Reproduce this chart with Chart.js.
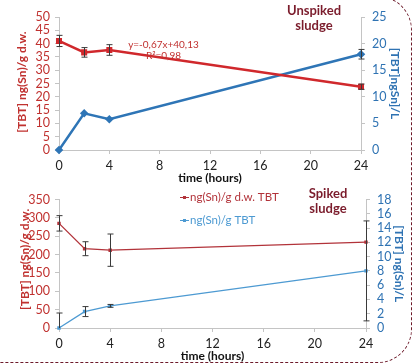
<!DOCTYPE html>
<html>
<head>
<meta charset="utf-8">
<script src="https://cdn.jsdelivr.net/npm/chart.js@4.4.1/dist/chart.umd.min.js"></script>
<style>
  html, body { margin: 0; padding: 0; background: #fff; }
  body { width: 419px; height: 363px; position: relative; overflow: hidden; font-family: Lato, sans-serif; }
  #top-box { position: absolute; left: 0; top: 0; width: 419px; height: 190px; }
  #bottom-box { position: absolute; left: 0; top: 185px; width: 419px; height: 178px; }
  .frame { position: absolute; left: -60px; top: -4px; width: 472px; height: 367px; box-sizing: border-box;
           border: 1.5px dashed #6d1a2a; border-radius: 34px; }
  .tag { position: absolute; color: #7b1c2c; font: bold 13px Lato, sans-serif; text-align: center; line-height: 15px; }
</style>
</head>
<body>
<div class="frame"></div>
<div id="top-box"><canvas id="top-chart" width="419" height="190"></canvas></div>
<div id="bottom-box"><canvas id="bottom-chart" width="419" height="178"></canvas></div>
<div class="tag" style="left:274px; top:3px; width:80px;">Unspiked<br>sludge</div>
<div class="tag" style="left:288px; top:186px; width:80px;">Spiked<br>sludge</div>
<script>
const hours = [0, 2, 4, 24];
const xTicks = [0, 4, 8, 12, 16, 20, 24];

// unspiked sludge: solid phase (left axis) and liquid phase (right axis)
const unspikedSolid = [41.0, 36.7, 37.6, 23.8];
const unspikedSolidErr = [2.1, 1.8, 2.0, 1.0];
const unspikedLiquid = [0, 6.9, 5.8, 18.0];
const unspikedLiquidErr = [0, 0, 0, 0.9];
const unspikedLeftTicks = [0, 5, 10, 15, 20, 25, 30, 35, 40, 45, 50];
const unspikedRightTicks = [0, 5, 10, 15, 20, 25];

// spiked sludge
const spikedSolid = [285, 216, 212, 234];
const spikedSolidErr = [21, 19, 44, 0];
const spikedLiquid = [0, 2.3, 3.1, 8.0];
const spikedLiquidErr = [2.1, 0.7, 0.2, 7.0];
const spikedLeftTicks = [0, 50, 100, 150, 200, 250, 300, 350];
const spikedRightTicks = [0, 2, 4, 6, 8, 10, 12, 14, 16, 18];

const RED = '#d0282c';
const RED_DARK = '#b2333a';
const BLUE = '#2e75b6';
const BLUE_LIGHT = '#4d9ad2';
const FONT = 'Lato, sans-serif';

function pts(ys) {
  return hours.map((h, i) => ({ x: h, y: ys[i] }));
}

const errorBars = {
  id: 'errorBars',
  afterDatasetsDraw(chart) {
    const ctx = chart.ctx, a = chart.chartArea;
    ctx.save();
    ctx.beginPath();
    ctx.rect(a.left - 10, a.top - 10, a.right - a.left + 20, a.bottom - a.top + 10);
    ctx.clip();
    ctx.strokeStyle = '#3a3a3a';
    ctx.lineWidth = 1;
    chart.data.datasets.forEach(ds => {
      if (!ds.errors) return;
      const ys = chart.scales[ds.yAxisID];
      ds.data.forEach((p, j) => {
        const e = ds.errors[j];
        if (!e) return;
        const x = Math.round(chart.scales.x.getPixelForValue(p.x)) + 0.5;
        const y1 = ys.getPixelForValue(p.y + e);
        const y2 = ys.getPixelForValue(p.y - e);
        ctx.beginPath();
        ctx.moveTo(x, y1); ctx.lineTo(x, y2);
        ctx.moveTo(x - 3, y1); ctx.lineTo(x + 3, y1);
        ctx.moveTo(x - 3, y2); ctx.lineTo(x + 3, y2);
        ctx.stroke();
      });
    });
    ctx.restore();
  }
};

const notes = {
  id: 'notes',
  afterDraw(chart, args, opts) {
    const ctx = chart.ctx;
    ctx.save();
    (opts.texts || []).forEach(t => {
      ctx.font = t.font;
      ctx.fillStyle = t.color;
      ctx.textAlign = 'center';
      ctx.textBaseline = 'middle';
      const x = chart.scales.x.getPixelForValue(t.x);
      const y = chart.scales[t.axis].getPixelForValue(t.y);
      ctx.fillText(t.text, x, y);
    });
    if (opts.legend) {
      const L = opts.legend;
      ctx.font = '11.5px ' + FONT;
      ctx.textAlign = 'left';
      ctx.textBaseline = 'middle';
      chart.data.datasets.forEach((ds, i) => {
        const y = L.y + i * L.gap;
        ctx.strokeStyle = ds.borderColor;
        ctx.fillStyle = ds.borderColor;
        ctx.lineWidth = 1;
        ctx.beginPath();
        ctx.moveTo(L.x, y + 0.5); ctx.lineTo(L.x + 9, y + 0.5);
        ctx.stroke();
        ctx.fillRect(L.x + 3, y - 1, 3, 3);
        ctx.fillText(ds.label, L.x + 10, y);
      });
    }
    ctx.restore();
  }
};

function xAxis(height, titlePad, tickPad) {
  return {
    type: 'linear', min: xTicks[0], max: xTicks[xTicks.length - 1],
    afterBuildTicks: s => { s.ticks = xTicks.map(v => ({ value: v })); },
    afterFit: s => { s.height = height; },
    border: { color: '#c4c4c4' },
    grid: { drawOnChartArea: false, tickLength: 4, color: '#c4c4c4' },
    ticks: { color: '#222', font: { family: FONT, size: 12.5 }, padding: tickPad, maxRotation: 0, autoSkip: false },
    title: { display: true, text: 'time (hours)', color: '#111',
             font: { family: FONT, size: 12, weight: 'bold' }, padding: { top: 0, bottom: titlePad } }
  };
}

function yAxis(pos, tickVals, width, color, title, titlePad, tickPad) {
  return {
    type: 'linear', position: pos,
    min: tickVals[0], max: tickVals[tickVals.length - 1],
    afterBuildTicks: s => { s.ticks = tickVals.map(v => ({ value: v })); },
    afterFit: s => { s.width = width; },
    border: { color: '#c4c4c4' },
    grid: { drawOnChartArea: false, tickLength: 4, color: '#c4c4c4' },
    ticks: { color: color, font: { family: FONT, size: 12.5 }, padding: tickPad, autoSkip: false },
    title: { display: true, text: title, color: color,
             font: { family: FONT, size: 12, weight: 'bold' }, padding: { top: titlePad, bottom: 0 } }
  };
}

const common = {
  responsive: false,
  animation: false,
  plugins: { legend: { display: false }, tooltip: { enabled: false } }
};

new Chart(document.getElementById('top-chart'), {
  type: 'line',
  data: {
    datasets: [
      { label: 'ng(Sn)/g d.w. TBT', data: pts(unspikedSolid), errors: unspikedSolidErr, yAxisID: 'yL',
        borderColor: RED, backgroundColor: RED, borderWidth: 2.5, pointStyle: 'rect', pointRadius: 2.5, clip: 10 },
      { label: 'ng(Sn)/L TBT', data: pts(unspikedLiquid), errors: unspikedLiquidErr, yAxisID: 'yR',
        borderColor: BLUE, backgroundColor: BLUE, borderWidth: 2.5, pointStyle: 'rectRot', pointRadius: 2.5, clip: 10 }
    ]
  },
  options: Object.assign({}, common, {
    layout: { padding: { top: 17, bottom: 0, left: 0, right: 0 } },
    scales: {
      x: xAxis(40, 5, 4),
      yL: yAxis('left', unspikedLeftTicks, 59, '#c0312f', ' [TBT] ng(Sn)/g d.w.', 15, 5),
      yR: yAxis('right', unspikedRightTicks, 58, '#2f73b3', '[TBT]ngSn]/L', 17, 7)
    },
    plugins: Object.assign({}, common.plugins, {
      notes: { texts: [
        { text: 'y=-0,67x+40,13', x: 8.3, y: 39.4, axis: 'yL', color: '#c0312f', font: '10px ' + FONT },
        { text: 'R²=0,98', x: 8.3, y: 35.6, axis: 'yL', color: '#c0312f', font: '10px ' + FONT }
      ] }
    })
  }),
  plugins: [errorBars, notes]
});

new Chart(document.getElementById('bottom-chart'), {
  type: 'line',
  data: {
    datasets: [
      { label: 'ng(Sn)/g d.w. TBT', data: pts(spikedSolid), errors: spikedSolidErr, yAxisID: 'yL',
        borderColor: RED_DARK, backgroundColor: RED_DARK, borderWidth: 1.3, pointStyle: 'rect', pointRadius: 1.5, clip: 10 },
      { label: 'ng(Sn)/g TBT', data: pts(spikedLiquid), errors: spikedLiquidErr, yAxisID: 'yR',
        borderColor: BLUE_LIGHT, backgroundColor: BLUE_LIGHT, borderWidth: 1.3, pointStyle: 'rect', pointRadius: 1.5, clip: 10 }
    ]
  },
  options: Object.assign({}, common, {
    layout: { padding: { top: 11, bottom: 0, left: 0, right: 0 } },
    scales: {
      x: xAxis(35, 0, 4),
      yL: yAxis('left', spikedLeftTicks, 59, '#c0312f', '   [TBT] ng(Sn)/g d.w.', 18, 5),
      yR: yAxis('right', spikedRightTicks, 53, '#2f73b3', '[TBT] ng(Sn)/L', 12.5, 7)
    },
    plugins: Object.assign({}, common.plugins, {
      notes: { legend: { x: 180, y: 12, gap: 23 } }
    })
  }),
  plugins: [errorBars, notes]
});
</script>
</body>
</html>
